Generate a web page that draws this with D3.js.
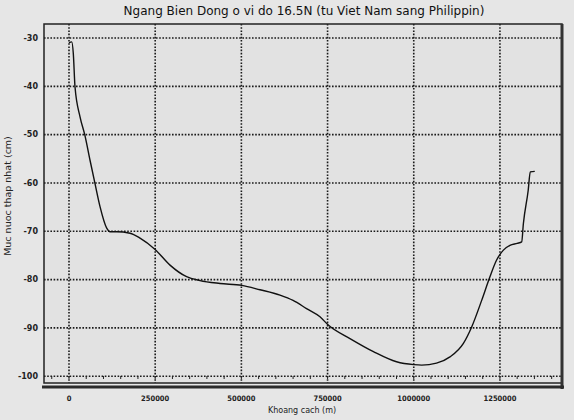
<!DOCTYPE html>
<html>
<head>
<meta charset="utf-8">
<script src="https://cdn.jsdelivr.net/npm/d3@7"></script>
<style>
  body { margin: 0; background: #e6e6e6; }
  svg { display: block; }
</style>
</head>
<body>
<svg id="chart"></svg>
<script>
// Distance (m) along 16.5N, Vietnam -> Philippines
const distance = [0, 8000, 12500, 17400, 32000, 46000, 61000, 75000, 90000, 109000,
    119000, 138000, 177000, 206000, 249000, 293000, 341000, 380000, 438000, 501000,
    554000, 612000, 650000, 689000, 728000, 752000, 815000, 883000, 950000, 1000000,
    1023000, 1066000, 1105000, 1144000, 1168000, 1197000, 1221000, 1240000, 1260000,
    1279000, 1300000, 1313000, 1318000, 1332000, 1338000, 1351000];
// Lowest water level (cm)
const level = [-31, -30.8, -33.2, -40.1, -46.3, -50.1, -55.3, -60.0, -64.9, -69.3,
    -70.1, -70.1, -70.4, -71.4, -73.7, -77.0, -79.4, -80.2, -80.8, -81.2,
    -82.1, -83.2, -84.3, -86.0, -87.7, -89.4, -92.2, -94.9, -97.0, -97.6,
    -97.7, -97.3, -96.0, -93.2, -89.8, -84.3, -79.4, -76.0, -73.9,
    -72.9, -72.5, -72.2, -68.4, -61.5, -57.7, -57.6];

const xTicks = [0, 250000, 500000, 750000, 1000000, 1250000];
const yTicks = [-30, -40, -50, -60, -70, -80, -90, -100];

const width = 574, height = 420;
const plot = { left: 44, right: 562, top: 24, bottom: 383 };

const svg = d3.select("#chart")
    .attr("width", width)
    .attr("height", height);

svg.append("rect")
    .attr("width", width)
    .attr("height", height)
    .attr("fill", "#e6e6e6");

const x = d3.scaleLinear()
    .domain([-72500, 1430000])
    .range([plot.left, plot.right]);

const y = d3.scaleLinear()
    .domain([-101.4, -27.1])
    .range([plot.bottom, plot.top]);

// plot background
svg.append("rect")
    .attr("x", plot.left)
    .attr("y", plot.top)
    .attr("width", plot.right - plot.left)
    .attr("height", plot.bottom - plot.top)
    .attr("fill", "#e2e2e2");

// dotted grid
const grid = svg.append("g")
    .attr("stroke", "#1a1a1a")
    .attr("stroke-width", 1.6)
    .attr("stroke-dasharray", "1.6,1.6");

yTicks.forEach(v => {
    grid.append("line")
        .attr("x1", plot.left).attr("x2", plot.right)
        .attr("y1", y(v)).attr("y2", y(v));
});
xTicks.forEach(v => {
    grid.append("line")
        .attr("x1", x(v)).attr("x2", x(v))
        .attr("y1", plot.top).attr("y2", plot.bottom);
});

// frame
svg.append("rect")
    .attr("x", plot.left)
    .attr("y", plot.top)
    .attr("width", plot.right - plot.left)
    .attr("height", plot.bottom - plot.top)
    .attr("fill", "none")
    .attr("stroke", "#222")
    .attr("stroke-width", 1.5);

svg.append("line")
    .attr("x1", plot.right).attr("x2", plot.right)
    .attr("y1", plot.top).attr("y2", plot.bottom + 6)
    .attr("stroke", "#333")
    .attr("stroke-width", 3);

// minor ticks along the bottom of the plot
const minor = d3.range(-50000, 1430001, 50000);
svg.append("g").selectAll("line")
    .data(minor)
    .enter()
    .append("line")
    .attr("x1", d => x(d)).attr("x2", d => x(d))
    .attr("y1", plot.bottom - 7).attr("y2", plot.bottom - 4)
    .attr("stroke", "#222")
    .attr("stroke-width", 1);

// x axis line
svg.append("line")
    .attr("x1", plot.left - 2).attr("x2", plot.right + 2)
    .attr("y1", plot.bottom + 4).attr("y2", plot.bottom + 4)
    .attr("stroke", "#2a2a2a")
    .attr("stroke-width", 3);

// line
const line = d3.line()
    .x((d, i) => x(distance[i]))
    .y(d => y(d))
    .curve(d3.curveMonotoneX);

svg.append("path")
    .attr("d", line(level))
    .attr("fill", "none")
    .attr("stroke", "#111")
    .attr("stroke-width", 1.4);

// tick labels
const tickFont = "'DejaVu Sans', sans-serif";
svg.append("g").selectAll("text")
    .data(yTicks)
    .enter()
    .append("text")
    .attr("x", 38)
    .attr("y", d => y(d))
    .attr("dy", "0.35em")
    .attr("text-anchor", "end")
    .attr("font-family", tickFont)
    .attr("font-size", "8px")
    .attr("font-weight", "bold")
    .attr("fill", "#222")
    .text(d => d);

svg.append("g").selectAll("text")
    .data(xTicks)
    .enter()
    .append("text")
    .attr("x", d => x(d))
    .attr("y", 401)
    .attr("text-anchor", "middle")
    .attr("font-family", "'DejaVu Sans Condensed', 'DejaVu Sans', sans-serif")
    .attr("font-size", "7.5px")
    .attr("font-weight", "bold")
    .attr("fill", "#222")
    .text(d => d);

// axis titles
svg.append("text")
    .attr("x", 302)
    .attr("y", 413)
    .attr("text-anchor", "middle")
    .attr("font-family", tickFont)
    .attr("font-size", "8px")
    .attr("fill", "#222")
    .text("Khoang cach (m)");

svg.append("text")
    .attr("transform", "translate(11,196) rotate(-90)")
    .attr("text-anchor", "middle")
    .attr("font-family", tickFont)
    .attr("font-size", "9.5px")
    .attr("fill", "#222")
    .text("Muc nuoc thap nhat (cm)");

// title
svg.append("text")
    .attr("x", 304)
    .attr("y", 15)
    .attr("text-anchor", "middle")
    .attr("font-family", "'DejaVu Sans', sans-serif")
    .attr("font-size", "12px")
    .attr("fill", "#111")
    .text("Ngang Bien Dong o vi do 16.5N (tu Viet Nam sang Philippin)");
</script>
</body>
</html>
